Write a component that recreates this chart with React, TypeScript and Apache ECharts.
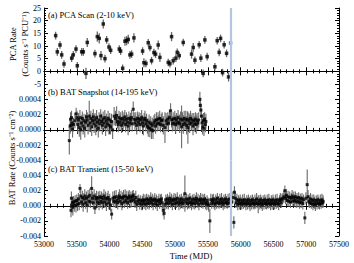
import React, { useEffect, useRef } from "react";
import * as echarts from "echarts";

// Panel (a) PCA Scan: [MJD, rate, error]
const pcaData: number[][] = [
  [53178, 14.1, 1.5], [53203, 7.7, 1.5], [53244, 10.4, 1.5], [53270, 6.5, 1.5], [53305, 2.9, 1.5],
  [53422, 5.2, 1.5], [53447, 6.5, 1.5], [53488, 8.8, 1.5], [53508, 2.2, 1.5], [53575, 7.7, 1.5],
  [53600, 7.7, 1.5], [53640, -0.8, 2.2], [53660, 11.4, 1.8], [53777, 7.0, 1.5], [53813, 13.7, 2],
  [53843, 13.0, 2], [53869, 6.2, 1.8], [53904, 18.7, 1.8], [53930, 5.0, 1.5], [53956, 12.4, 1.5],
  [53991, 9.6, 1.5], [54017, 8.3, 1.5], [54148, 8.8, 1.5], [54169, 8.0, 1.5], [54200, 1.2, 1.5],
  [54235, 11.9, 1.8], [54260, 12.1, 1.8], [54285, 12.6, 1.8], [54311, 6.5, 1.5], [54337, 6.8, 1.5],
  [54372, 13.2, 1.8], [54504, 8.0, 1.5], [54524, 3.4, 1.8], [54555, 3.1, 1.5], [54590, 11.3, 1.5],
  [54616, 9.4, 1.5], [54641, 4.2, 1.5], [54677, 7.4, 1.5], [54702, 6.8, 1.5], [54742, 10.4, 1.8],
  [54768, 5.5, 1.8], [54895, 3.5, 1.5], [54921, 3.0, 1.5], [54946, 13.7, 1.8], [54971, 4.2, 1.5],
  [55012, 5.2, 1.5], [55032, 7.5, 1.5], [55063, 6.2, 1.5], [55124, 11.4, 1.5], [55251, 6.8, 1.8],
  [55276, 9.4, 1.8], [55302, 4.4, 1.5], [55367, 10.5, 1.5], [55393, 5.2, 1.5], [55428, -0.8, 1.5],
  [55454, 12.4, 1.5], [55489, 5.8, 1.5], [55607, 1.8, 1.5], [55642, 12.1, 1.5], [55672, 7.5, 1.5],
  [55694, 13.0, 1.5], [55724, -0.5, 1.5], [55748, 10.5, 1.5], [55785, 7.1, 1.5], [55815, -2.2, 1.8],
];
const pcaBlue: number[][] = [[55846, 11.2, 0.6]];

// Panel (b) BAT Snapshot: [MJD, rate x1e-5, error x1e-5]
const batSnapData: number[][] = [
  [53386, -14, 18], [53398, 5, 10], [53405, 14, 9], [53412, 6, 8], [53420, 16, 9], [53428, 9, 8], [53436, 1, 11],
  [53450, 7, 9], [53472, 12, 10], [53490, 21, 8], [53502, 16, 9], [53515, 7, 11], [53525, 13, 9], [53538, 3, 12],
  [53548, 16, 10], [53560, 0, 13], [53572, 9, 10], [53585, 15, 9], [53596, 5, 11], [53610, 12, 9], [53622, 2, 12],
  [53635, 10, 10], [53648, 17, 9], [53660, 13, 10], [53672, 6, 12], [53690, 18, 20], [53702, 9, 12], [53715, 15, 10],
  [53728, 4, 12], [53740, 12, 10], [53752, 17, 10], [53765, 8, 12], [53778, 13, 9], [53790, 5, 12], [53802, 16, 10],
  [53815, 10, 9], [53828, 2, 12], [53840, 13, 10], [53852, 8, 10], [53865, 18, 9], [53878, 11, 10], [53890, 6, 12],
  [53902, 14, 10], [53915, 9, 9], [53928, 16, 10], [53940, 4, 12], [53952, 12, 9], [53965, 8, 10], [53978, 15, 10],
  [53990, 6, 12], [54003, 13, 9], [54015, 4, 10], [54030, 11, 10], [54047, 0, 12], [54070, 18, 12], [54090, 15, 10],
  [54108, 19, 12], [54120, 11, 9], [54133, 7, 10], [54145, 16, 9], [54158, 10, 10], [54170, 14, 9], [54183, 6, 10],
  [54195, 15, 10], [54208, 9, 9], [54220, 13, 10], [54233, 17, 9], [54245, 7, 10], [54258, 14, 9], [54270, 10, 10],
  [54283, 5, 12], [54295, 15, 9], [54308, 9, 10], [54320, 13, 9], [54333, 16, 10], [54345, 8, 10], [54361, 27, 10],
  [54375, 14, 9], [54388, 9, 10], [54400, 13, 10], [54415, 6, 12], [54428, 15, 9], [54440, 10, 10], [54452, 14, 9],
  [54465, 7, 10], [54478, 13, 9], [54490, 16, 10], [54503, 9, 10], [54515, 5, 12], [54528, 13, 9], [54540, 15, 10],
  [54553, 8, 10], [54565, 12, 9], [54578, 5, 10], [54590, 3, 12], [54603, 10, 10], [54615, 2, 12], [54628, 8, 10],
  [54640, 0, 12], [54652, 6, 10], [54663, -1, 11], [54677, 9, 10], [54690, 12, 9], [54702, 5, 10], [54715, 13, 10],
  [54728, 8, 10], [54740, 14, 9], [54753, 9, 10], [54765, 15, 10], [54778, 7, 10], [54790, 12, 9], [54803, 13, 10],
  [54820, 6, 12], [54845, 3, 20], [54862, 12, 10], [54875, 8, 10], [54888, 14, 9], [54900, 9, 10], [54913, 16, 10],
  [54931, 25, 10], [54945, 13, 10], [54958, 8, 10], [54970, 14, 9], [54983, 9, 10], [54995, 15, 10], [55008, 7, 12],
  [55020, 13, 9], [55033, 9, 10], [55045, 16, 10], [55058, 10, 9], [55070, 8, 12], [55083, 14, 10], [55099, 4, 28],
  [55112, 13, 10], [55125, 7, 12], [55138, 15, 10], [55150, 9, 9], [55163, 13, 12], [55175, 6, 12], [55188, 14, 10],
  [55195, 3, 21], [55210, 12, 10], [55222, 8, 12], [55235, 15, 10], [55248, 9, 10], [55260, 13, 9], [55273, 5, 12],
  [55285, 12, 10], [55298, 8, 10], [55310, 14, 9], [55323, 7, 12], [55335, 12, 10], [55348, 9, 9], [55360, 13, 10],
  [55378, 40, 10], [55385, 32, 9], [55393, 26, 9], [55402, 18, 10], [55410, 9, 11], [55420, 4, 10], [55432, 12, 10],
  [55440, 2, 10], [55450, 14, 9], [55462, 7, 10], [55470, 11, 10],
];

// Panel (c) BAT Transient: [MJD, rate x1e-4, error x1e-4]
const batTransData: number[][] = [
  [53412, -6, 9], [53418, 10, 9], [53425, 0, 10], [53432, 4, 8], [53440, -2, 11], [53450, 5, 8], [53462, 1, 9],
  [53475, 6, 8], [53488, 0, 9], [53500, 7, 8], [53512, 2, 9], [53525, 9, 8], [53537, 3, 9], [53549, 23, 6],
  [53560, 13, 8], [53572, 5, 8], [53585, 11, 9], [53597, 2, 10], [53610, 9, 8], [53622, 13, 9], [53635, 4, 8],
  [53648, 10, 9], [53660, 1, 10], [53672, 12, 9], [53685, 6, 8], [53698, 14, 9], [53710, 5, 8], [53727, 23, 16],
  [53740, 10, 9], [53752, 4, 8], [53765, 13, 9], [53777, -3, 8], [53790, 9, 8], [53802, 11, 9], [53815, 5, 8],
  [53828, 10, 9], [53840, 3, 9], [53852, 12, 8], [53865, 6, 9], [53878, 11, 8], [53890, 4, 9], [53902, 9, 8],
  [53915, 13, 9], [53928, 5, 8], [53940, 10, 9], [53952, 2, 9], [53965, 9, 8], [53978, 11, 9], [53990, 4, 9],
  [54003, 8, 8], [54015, 1, 9], [54032, -11, 7], [54050, 10, 9], [54063, 6, 8], [54075, 11, 9], [54088, 5, 8],
  [54100, 12, 9], [54113, 7, 8], [54125, 4, 9], [54138, 10, 8], [54150, 13, 9], [54163, 6, 8], [54175, 11, 9],
  [54188, 3, 9], [54200, 10, 8], [54213, 12, 9], [54225, 5, 8], [54238, 13, 9], [54250, 7, 8], [54263, 11, 9],
  [54275, 4, 8], [54288, 10, 9], [54300, 13, 8], [54313, 6, 9], [54325, 11, 8], [54338, 7, 9], [54350, 12, 8],
  [54361, 14, 7], [54375, 8, 9], [54388, 5, 8], [54400, 11, 9], [54415, 2, 9], [54430, 6, 8], [54445, 8, 7],
  [54460, 3, 8], [54475, 7, 7], [54490, 2, 8], [54503, 6, 7], [54515, 8, 8], [54528, 3, 7], [54540, 7, 8],
  [54553, 2, 8], [54565, 9, 7], [54578, 4, 8], [54590, 8, 7], [54603, 3, 8], [54615, 7, 7], [54628, 10, 8],
  [54640, 4, 7], [54652, 8, 8], [54665, 2, 8], [54678, 7, 7], [54690, 9, 8], [54703, 3, 7], [54715, 7, 8],
  [54728, 1, 8], [54740, 6, 7], [54753, 8, 8], [54765, 3, 7], [54778, 7, 8], [54790, 9, 7], [54803, 4, 8],
  [54819, -6, 8], [54832, -10, 8], [54845, 2, 8], [54858, 8, 7], [54870, 4, 8], [54883, 9, 7], [54895, 3, 8],
  [54908, 7, 7], [54920, 10, 8], [54933, 4, 7], [54945, 8, 8], [54958, 2, 8], [54970, 7, 7], [54983, 9, 8],
  [54995, 3, 7], [55008, 8, 8], [55020, 4, 7], [55033, 10, 8], [55045, 5, 7], [55058, 2, 8], [55070, 8, 7],
  [55083, 4, 8], [55095, 9, 7], [55108, 5, 8], [55120, 3, 7], [55133, 8, 8], [55149, 16, 24], [55162, 5, 8],
  [55175, 9, 7], [55188, 3, 8], [55200, 8, 7], [55213, 4, 8], [55225, 10, 7], [55238, 5, 8], [55250, 2, 8],
  [55263, 8, 7], [55275, 4, 8], [55288, 9, 7], [55300, 3, 8], [55313, 7, 7], [55325, 10, 8], [55338, 4, 7],
  [55350, 8, 8], [55363, 2, 8], [55375, 7, 7], [55388, 9, 8], [55400, 4, 7], [55413, 8, 8], [55425, 3, 7],
  [55438, 7, 8], [55450, 9, 7], [55463, 4, 8], [55475, 2, 8], [55488, 7, 7], [55500, 3, 8], [55513, 1, 9],
  [55530, -20, 16], [55545, 8, 8], [55558, 3, 7], [55570, 7, 8], [55583, 9, 7], [55595, 4, 8], [55608, 2, 8],
  [55620, 8, 7], [55633, 4, 8], [55645, 10, 7], [55658, 5, 8], [55670, 3, 7], [55683, 8, 8], [55695, 4, 7],
  [55708, 9, 8], [55720, 5, 7], [55733, 2, 8], [55745, 8, 7], [55758, 4, 8], [55770, 9, 7], [55783, 5, 8],
  [55795, 3, 7], [55808, 8, 8], [55820, 4, 7], [55835, 9, 8], [55862, 5, 8], [55880, 11, 8], [55896, -22, 8],
  [55905, 18, 8], [55918, 10, 8], [55930, 4, 7], [55943, 8, 8], [55955, 2, 8], [55968, 7, 7], [55980, 3, 8],
  [55993, 8, 7], [56005, 4, 8], [56018, 2, 7], [56030, 7, 8], [56043, 3, 7], [56055, 8, 8], [56068, 4, 7],
  [56080, 2, 8], [56093, 7, 7], [56105, 3, 8], [56118, 8, 7], [56130, 4, 8], [56143, 1, 8], [56155, 7, 7],
  [56168, 3, 8], [56180, 8, 7], [56193, 4, 8], [56205, 2, 7], [56218, 7, 8], [56230, 3, 7], [56243, 9, 8],
  [56255, 4, 7], [56268, 2, 12], [56280, 7, 7], [56293, 3, 8], [56305, 8, 7], [56318, 4, 8], [56330, 1, 8],
  [56343, 7, 7], [56355, 3, 8], [56368, 8, 7], [56380, 4, 8], [56393, 2, 7], [56405, 7, 8], [56418, 3, 7],
  [56430, 8, 8], [56443, 4, 7], [56455, 2, 8], [56468, 7, 7], [56480, 3, 8], [56493, 8, 7], [56505, 4, 8],
  [56518, 2, 7], [56530, 7, 8], [56543, 3, 7], [56555, 8, 8], [56568, 4, 7], [56580, 2, 8], [56593, 7, 7],
  [56605, 9, 8], [56618, 4, 7], [56630, 8, 8], [56645, 10, 7], [56660, 12, 8], [56674, 20, 7], [56685, 10, 8],
  [56698, 14, 8], [56710, 7, 7], [56723, 12, 8], [56735, 6, 7], [56748, 11, 8], [56760, 5, 8], [56773, 10, 7],
  [56785, 13, 8], [56798, 6, 7], [56810, 11, 8], [56823, 7, 8], [56835, 12, 7], [56848, 5, 8], [56860, 10, 7],
  [56873, 6, 8], [56885, 11, 7], [56898, 4, 8], [56910, 9, 7], [56923, 5, 8], [56935, 10, 7], [56948, 3, 8],
  [56960, 8, 7], [56979, -16, 8], [56995, 10, 8], [57015, 28, 20], [57028, 12, 9], [57040, 6, 8], [57053, 4, 7],
  [57065, 9, 8], [57078, 3, 7], [57090, 7, 8], [57103, 2, 8], [57115, 8, 7], [57128, 4, 8], [57140, 1, 8],
  [57153, 7, 7], [57165, 3, 8], [57178, 8, 7], [57190, 4, 8], [57203, 2, 7], [57215, 7, 8], [57228, 3, 7],
  [57240, 8, 8], [57252, 4, 7], [57258, 6, 8],
];

const markerMJD = 55850;
const xTicks = { min: 53000, max: 57500, interval: 500 };
const panelLabels = ["(a) PCA Scan (2-10 keV)", "(b) BAT Snapshot (14-195 keV)", "(c) BAT Transient (15-50 keV)"];

const FONT = '"Liberation Serif", "Times New Roman", serif';

export default function App() {
  const ref = useRef<HTMLDivElement>(null);
  useEffect(() => {
    if (!ref.current) return;
    const chart = echarts.init(ref.current, null, { renderer: "svg" });

    const toBars = (d: number[][], s: number) => d.map((r) => [r[0], (r[1] - r[2]) * s, (r[1] + r[2]) * s]);
    const toPts = (d: number[][], s: number) => d.map((r) => [r[0], r[1] * s]);

    const grids = [
      { left: 44, right: 15, top: 8, height: 76 },
      { left: 44, right: 15, top: 84, height: 76.5 },
      { left: 44, right: 15, top: 160.5, height: 75.5 },
    ];

    const xAxes: any[] = [];
    const yAxes: any[] = [];
    const axLine = { show: true, lineStyle: { color: "#000", width: 1 } };
    for (let i = 0; i < 3; i++) {
      for (const pos of ["bottom", "top"]) {
        xAxes.push({
          type: "value",
          gridIndex: i,
          position: pos,
          ...xTicks,
          axisLine: axLine,
          axisTick: { show: true, inside: true, length: 4, lineStyle: { color: "#000" } },
          minorTick: { show: true, splitNumber: 5, length: 2, lineStyle: { color: "#000" } },
          splitLine: { show: false },
          axisLabel: {
            show: i === 2 && pos === "bottom",
            color: "#000",
            fontFamily: FONT,
            fontSize: 8,
            margin: 4,
            formatter: (v: number) => String(v),
          },
        });
      }
    }
    const yCfg = [
      { min: -5, max: 25, interval: 5, minor: 5, fmt: (v: number) => String(v) },
      {
        min: -0.0004, max: 0.0006, interval: 0.0002, minor: 4,
        fmt: (v: number) => (v > 0.00055 ? "" : (Math.abs(v) < 1e-9 ? 0 : v).toFixed(4)),
      },
      {
        min: -0.004, max: 0.006, interval: 0.002, minor: 4,
        fmt: (v: number) => (v > 0.0055 ? "" : (Math.abs(v) < 1e-9 ? 0 : v).toFixed(3)),
      },
    ];
    for (let i = 0; i < 3; i++) {
      for (const pos of ["left", "right"]) {
        const c = yCfg[i];
        yAxes.push({
          type: "value",
          gridIndex: i,
          position: pos,
          min: c.min,
          max: c.max,
          interval: c.interval,
          axisLine: axLine,
          axisTick: { show: true, inside: true, length: 4, lineStyle: { color: "#000" } },
          minorTick: { show: true, splitNumber: c.minor, length: 2, lineStyle: { color: "#000" } },
          splitLine: { show: false },
          axisLabel: {
            show: pos === "left",
            color: "#000",
            fontFamily: FONT,
            fontSize: 8,
            margin: 3,
            formatter: c.fmt,
          },
        });
      }
    }

    const errSeries = (data: number[][], idx: number, color: string, width: number, withLine: boolean) => ({
      type: "custom",
      xAxisIndex: idx * 2,
      yAxisIndex: idx * 2,
      clip: true,
      z: 2,
      data,
      renderItem: (_p: any, api: any) => {
        const x = api.value(0);
        const a = api.coord([x, api.value(1)]);
        const b = api.coord([x, api.value(2)]);
        return {
          type: "line",
          shape: { x1: a[0], y1: a[1], x2: b[0], y2: b[1] },
          style: { stroke: color, lineWidth: width },
        };
      },
      markLine: withLine
        ? {
            silent: true,
            symbol: "none",
            label: { show: false },
            lineStyle: { color: "#b3c5df", width: 2.2, type: "solid", opacity: 1 },
            data: [{ xAxis: markerMJD }],
          }
        : undefined,
    });
    const ptSeries = (data: number[][], idx: number, color: string, size: number) => ({
      type: "scatter",
      xAxisIndex: idx * 2,
      yAxisIndex: idx * 2,
      z: 3,
      symbol: "rect",
      symbolSize: size,
      itemStyle: { color },
      data,
    });

    const series: any[] = [
      errSeries(toBars(pcaData, 1), 0, "#666", 1.3, true),
      ptSeries(toPts(pcaData, 1), 0, "#000", 3.5),
      errSeries(toBars(pcaBlue, 1), 0, "#2a5cff", 1.3, false),
      ptSeries(toPts(pcaBlue, 1), 0, "#2a5cff", 3.5),
      errSeries(toBars(batSnapData, 1e-5), 1, "#6a6a6a", 1.1, true),
      ptSeries(toPts(batSnapData, 1e-5), 1, "#000", 3),
      errSeries(toBars(batTransData, 1e-4), 2, "#6a6a6a", 1.1, true),
      ptSeries(toPts(batTransData, 1e-4), 2, "#000", 3),
    ];

    const labelYs = [15, 92, 169];
    const graphic: any[] = panelLabels.map((t, i) => ({
      type: "text",
      x: 48,
      y: labelYs[i],
      z: 10,
      style: { text: t, fill: "#000", font: `8.5px ${FONT}`, textVerticalAlign: "middle", textAlign: "left" },
    }));
    graphic.push(
      {
        type: "text", x: 13, y: 44, rotation: Math.PI / 2,
        style: { text: "PCA Rate", fill: "#000", font: `8.5px ${FONT}`, textAlign: "center", textVerticalAlign: "middle" },
      },
      {
        type: "text", x: 25, y: 44, rotation: Math.PI / 2,
        style: { text: "(Counts s\u207B\u00B9 PCU\u207B\u00B9)", fill: "#000", font: `8.5px ${FONT}`, textAlign: "center", textVerticalAlign: "middle" },
      },
      {
        type: "text", x: 12, y: 158, rotation: Math.PI / 2,
        style: { text: "BAT Rate (Counts s\u207B\u00B9 cm\u207B\u00B2)", fill: "#000", font: `8.5px ${FONT}`, textAlign: "center", textVerticalAlign: "middle" },
      },
      {
        type: "text", x: 191, y: 256,
        style: { text: "Time (MJD)", fill: "#000", font: `8.5px ${FONT}`, textAlign: "center", textVerticalAlign: "middle" },
      }
    );

    chart.setOption({
      animation: false,
      backgroundColor: "#fff",
      grid: grids,
      xAxis: xAxes,
      yAxis: yAxes,
      series,
      graphic,
    });
    return () => chart.dispose();
  }, []);
  return (
    <div
      ref={ref}
      style={{ position: "fixed", left: 0, top: 0, width: 354, height: 263, background: "#fff" }}
    />
  );
}
